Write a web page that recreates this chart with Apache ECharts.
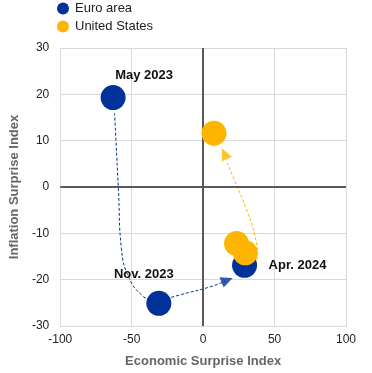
<!DOCTYPE html>
<html><head><meta charset="utf-8">
<script src="https://cdn.jsdelivr.net/npm/echarts@6/dist/echarts.min.js"></script>
<style>html,body{margin:0;padding:0;background:#fff}#c{width:372px;height:373px}</style>
</head><body><div id="c"></div>
<script>
// Data
var euroPoints = [[-63, 19.3, 'May 2023'], [-31, -25.1, 'Nov. 2023'], [29, -16.9, 'Apr. 2024']];
var usPoints = [[7.6, 11.6], [23.4, -12.2], [29.5, -14.2]];
var euroPath1 = [[-62, 16], [-59.3, -0.4], [-57.2, -13.3], [-51.7, -19.7], [-42.8, -23.4], [-35.9, -24.6]];
var euroPath2 = [[-29, -24.4], [-15.2, -23.2], [5.5, -21.5], [15.5, -20.3]];
var usPath = [[26.2, -17.6], [34.5, -17.1], [37.9, -15], [35.9, -10.1], [29.5, -4.2], [22.3, 1.2], [16.8, 5.2]];
var euroArrow = [[16.8, -20.1]];
var usArrow = [[14.9, 7.2]];
var xTicks = [-100, -50, 0, 50, 100];
var yTicks = [-30, -20, -10, 0, 10, 20, 30];

var BLUE = '#003299', YELLOW = '#ffb400';
var chart = echarts.init(document.getElementById('c'));
var font = 'Liberation Sans, Arial, sans-serif';
chart.setOption({
  animation: false,
  textStyle: {fontFamily: font},
  legend: {
    orient: 'vertical', left: 57, top: 2, itemGap: 5, itemWidth: 14, itemHeight: 12,
    padding: 0,
    textStyle: {fontSize: 13, color: '#222', fontFamily: font},
    data: [{name: 'Euro area', icon: 'circle'}, {name: 'United States', icon: 'circle'}]
  },
  grid: {left: 56, right: 26, top: 48, bottom: 44},
  xAxis: {
    type: 'value', min: xTicks[0], max: xTicks[xTicks.length - 1], interval: 50,
    name: 'Economic Surprise Index', nameLocation: 'middle', nameGap: 29,
    nameTextStyle: {fontSize: 13, fontWeight: 'bold', color: '#666'},
    axisLine: {show: true, onZero: false, lineStyle: {color: '#d9d9d9'}},
    axisTick: {show: false},
    axisLabel: {fontSize: 12, color: '#222', margin: 8},
    splitLine: {lineStyle: {color: '#d9d9d9'}}
  },
  yAxis: {
    type: 'value', min: yTicks[0], max: yTicks[yTicks.length - 1], interval: 10,
    name: 'Inflation Surprise Index', nameLocation: 'middle', nameGap: 39,
    nameTextStyle: {fontSize: 13, fontWeight: 'bold', color: '#666'},
    axisLine: {show: true, onZero: false, lineStyle: {color: '#d9d9d9'}},
    axisTick: {show: false},
    axisLabel: {fontSize: 12, color: '#222', margin: 11},
    splitLine: {lineStyle: {color: '#d9d9d9'}}
  },
  series: [
    {
      type: 'line', data: [], silent: true, z: 1,
      markLine: {
        silent: true, symbol: 'none', label: {show: false},
        lineStyle: {color: '#595959', width: 2, type: 'solid'},
        data: [{xAxis: 0}, {yAxis: 0}]
      }
    },
    {type: 'line', data: euroPath1, smooth: 0.5, symbol: 'none', silent: true, z: 3,
      lineStyle: {color: BLUE, width: 1, type: [3, 2]}},
    {type: 'line', data: euroPath2, smooth: 0.5, symbol: 'none', silent: true, z: 3,
      lineStyle: {color: BLUE, width: 1, type: [3, 2]}},
    {type: 'line', data: usPath, smooth: 0.5, symbol: 'none', silent: true, z: 3,
      lineStyle: {color: YELLOW, width: 1, type: [3, 2]}},
    {type: 'scatter', data: euroArrow, symbol: 'triangle', symbolSize: [11, 12], symbolRotate: -68, z: 4,
      itemStyle: {color: BLUE}},
    {type: 'scatter', data: usArrow, symbol: 'triangle', symbolSize: [11, 12], symbolRotate: 25, z: 4,
      itemStyle: {color: YELLOW}},
    {
      name: 'Euro area', type: 'scatter', data: euroPoints, symbolSize: 25, z: 5,
      itemStyle: {color: BLUE, opacity: 1},
      label: {
        show: true, fontSize: 13, fontWeight: 'bold', color: '#111',
        formatter: function (p) { return p.data[2]; },
        position: 'top'
      },
      labelLayout: function (p) {
        var i = p.dataIndex;
        var r = p.rect;
        var cx = r.x + r.width / 2, cy = r.y + r.height / 2;
        if (i === 0) return {x: cx + 31, y: cy - 22, align: 'center', verticalAlign: 'middle'};
        if (i === 1) return {x: cx - 15, y: cy - 29, align: 'center', verticalAlign: 'middle'};
        return {x: cx + 24, y: cy, align: 'left', verticalAlign: 'middle'};
      }
    },
    {
      name: 'United States', type: 'scatter', data: usPoints, symbolSize: 25, z: 6,
      itemStyle: {color: YELLOW, opacity: 1}
    }
  ]
});
</script></body></html>
